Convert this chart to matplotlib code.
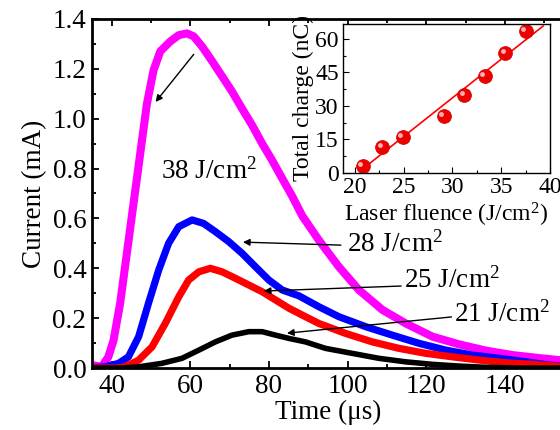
import numpy as np
import matplotlib
matplotlib.use("Agg")
import matplotlib.pyplot as plt
import matplotlib.transforms as mtransforms

plt.rcParams['font.family'] = ['Liberation Serif', 'DejaVu Serif']
plt.rcParams['mathtext.fontset'] = 'custom'
plt.rcParams['mathtext.rm'] = 'Liberation Serif'
plt.rcParams['mathtext.it'] = 'Liberation Serif:italic'

# current traces (time in us, current in mA)
t_38 = [35, 37.5, 39.2, 40.5, 42.2, 43.9, 45.6, 47.3, 49.0, 50.7, 52.4, 54.95, 57.1, 59.2, 60.9,
        63.0, 65.6, 68.1, 70.6, 73.2, 75.7, 78.3, 80.8, 83.4, 85.9, 88.5, 92.7, 97.8, 102.9,
        108.9, 114.8, 121.6, 128.4, 135.2, 142.0, 148.8, 155]
i_38 = [0.012, 0.005, 0.045, 0.11, 0.26, 0.46, 0.66, 0.86, 1.06, 1.195, 1.27, 1.31, 1.335, 1.342, 1.33,
        1.29, 1.23, 1.17, 1.11, 1.04, 0.975, 0.90, 0.834, 0.76, 0.69, 0.61, 0.513, 0.406, 0.313,
        0.233, 0.179, 0.126, 0.095, 0.07, 0.052, 0.04, 0.03]

t_28 = [35, 38.4, 41.8, 44.3, 46.9, 49.4, 52.0, 54.5, 57.1, 60.5, 63.4, 66.4, 69.8, 73.2, 76.6,
        80.0, 83.4, 87.6, 92.7, 97.8, 104.6, 111.4, 118.2, 125.0, 131.8, 138.6, 145.4, 151.3, 155]
i_28 = [0.0, 0.005, 0.019, 0.045, 0.126, 0.26, 0.393, 0.50, 0.567, 0.594, 0.58, 0.547, 0.507, 0.46, 0.406,
        0.353, 0.313, 0.29, 0.246, 0.206, 0.166, 0.132, 0.099, 0.072, 0.052, 0.039, 0.025, 0.012, 0.008]

t_25 = [35, 41, 43.5, 46.9, 50.3, 53.7, 57.1, 59.6, 62.2, 65.1, 68.1, 71.5, 74.9, 78.3, 81.7,
        85.1, 89.3, 92.7, 99.5, 106.3, 113.1, 119.9, 126.7, 133.5, 140.3, 147.1, 153.0, 155]
i_25 = [0.0, 0.0, 0.005, 0.032, 0.085, 0.18, 0.286, 0.353, 0.386, 0.40, 0.386, 0.36, 0.333, 0.306, 0.273,
        0.24, 0.206, 0.179, 0.139, 0.105, 0.079, 0.059, 0.045, 0.032, 0.021, 0.015, 0.008, 0.006]

t_21 = [35, 42, 46.9, 52.8, 57.9, 62.2, 66.4, 70.6, 74.9, 78.3, 81.7, 85.1, 89.3, 94.4, 101.2,
        108.0, 114.8, 121.6, 128.4, 135.2, 145, 155]
i_21 = [0.0, 0.0, 0.005, 0.019, 0.039, 0.072, 0.105, 0.132, 0.146, 0.146, 0.132, 0.119, 0.105, 0.079, 0.059,
        0.039, 0.025, 0.015, 0.008, 0.003, 0.0, 0.0]

# inset: total charge vs laser fluence
fluence = [20.8, 22.8, 24.9, 29.1, 31.2, 33.3, 35.4, 37.5]
charge = [3.0, 11.5, 16.0, 25.5, 35.0, 43.5, 53.5, 63.5]

labels = ['38 J/cm$^2$', '28 J/cm$^2$', '25 J/cm$^2$', '21 J/cm$^2$']
label_pos = [(52.7, 0.79), (99.9, 0.495), (114.4, 0.35), (127.1, 0.215)]
arrow_tail = [(60.9, 1.258), (98.3, 0.493), (113.6, 0.329), (126.4, 0.205)]
arrow_head = [(51.2, 1.067), (73.4, 0.505), (78.7, 0.309), (84.6, 0.140)]

fig = plt.figure(figsize=(5.6, 4.3), dpi=100)
ax = fig.add_axes([0.164, 0.144, 0.843, 0.812])

ax.plot(t_38, i_38, color='#ff00ff', lw=5.8, solid_joinstyle='round')
ax.plot(t_28, i_28, color='#0000ff', lw=5.2, solid_joinstyle='round')
ax.plot(t_25, i_25, color='#ff0000', lw=5.2, solid_joinstyle='round')
ax.plot(t_21, i_21, color='black', lw=4.0, solid_joinstyle='round')

ax.set_xlim(35, 155)
ax.set_ylim(0, 1.4)
ax.set_xticks([40, 60, 80, 100, 120, 140])
ax.set_xticks(np.arange(50, 155, 20), minor=True)
ax.set_yticks(np.arange(0, 1.41, 0.2))
ax.set_yticks(np.arange(0.1, 1.4, 0.2), minor=True)
ax.yaxis.set_major_formatter(matplotlib.ticker.FormatStrFormatter('%.1f'))
ax.tick_params(which='both', direction='in', top=True, right=False, labelsize=19.5, width=1.3)
ax.tick_params(which='major', length=5, pad=4)
ax.tick_params(which='minor', length=3)
for s in ax.spines.values():
    s.set_linewidth(2.0)
ax.set_xlabel('Time (\u03bcs)', fontsize=19.5, labelpad=1)
ax.set_ylabel('Current (mA)', fontsize=19.5, labelpad=4)

for lab, pos, tail, head in zip(labels, label_pos, arrow_tail, arrow_head):
    ax.text(pos[0], pos[1], lab, fontsize=19.5, ha='left', va='center')
    ax.annotate('', xy=head, xytext=tail,
                arrowprops=dict(arrowstyle='-|>', color='black', lw=1.0,
                                mutation_scale=10, shrinkA=0, shrinkB=0))

# inset
ins = fig.add_axes([0.6125, 0.5977, 0.3696, 0.3465])
coef = np.polyfit(fluence, charge, 1)
xfit = np.array([20.8, 39.3])
ins.plot(xfit, np.polyval(coef, xfit), color='red', lw=1.2)
ins.plot(fluence, charge, 'o', color='#ee0000', ms=10, mec='#cc0000', mew=0.5)
hl = ins.transData + mtransforms.ScaledTranslation(-1.5 / 72, 1.5 / 72, fig.dpi_scale_trans)
ins.plot(fluence, charge, 'o', color='#ffb0b0', ms=3.5, mew=0, transform=hl)
ins.set_xlim(18.8, 40)
ins.set_ylim(0, 66.7)
ins.set_xticks([20, 25, 30, 35, 40])
ins.set_xticks([22.5, 27.5, 32.5, 37.5], minor=True)
ins.set_yticks([0, 15, 30, 45, 60])
ins.set_yticks([7.5, 22.5, 37.5, 52.5], minor=True)
ins.tick_params(which='both', direction='in', labelsize=17, width=0.8)
ins.tick_params(which='major', length=4, pad=3)
ins.tick_params(which='minor', length=2)
for s in ins.spines.values():
    s.set_linewidth(1.0)
ins.set_xlabel('Laser fluence (J/cm$^2$)', fontsize=17, labelpad=2)
ins.set_ylabel('Total charge (nC)', fontsize=17, labelpad=1)

fig.savefig('out.png', dpi=100)
